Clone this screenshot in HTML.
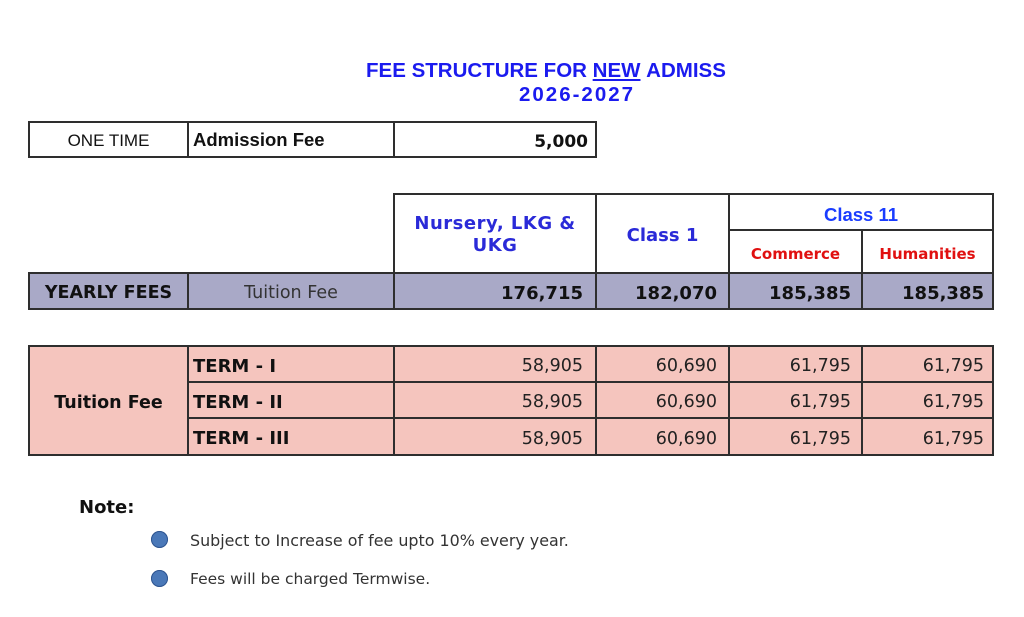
<!DOCTYPE html>
<html><head><meta charset="utf-8">
<style>
html,body{margin:0;padding:0;background:#fff;}
body{width:1024px;height:617px;position:relative;overflow:hidden;font-family:"DejaVu Sans",Verdana,sans-serif;}
.l{position:absolute;background:#2e2e2e;}
.c{position:absolute;display:flex;align-items:center;white-space:nowrap;box-sizing:border-box;}
.d{padding-top:4px;}
.r{justify-content:flex-end;}
.m{justify-content:center;text-align:center;}
.bg{position:absolute;}
</style></head><body>

<!-- Title -->
<div class="c" style="left:366px;top:59px;height:24px;font-family:'Liberation Sans',Arial,sans-serif;font-weight:bold;font-size:20.5px;color:#1b1bef;">FEE STRUCTURE FOR&nbsp;<span style="text-decoration:underline;">NEW</span>&nbsp;ADMISS</div>
<div class="c" style="left:519px;top:83px;height:24px;font-family:'Liberation Sans',Arial,sans-serif;font-weight:bold;font-size:20.5px;letter-spacing:2px;color:#1b1bef;">2026-2027</div>

<!-- Top table -->
<div class="l" style="left:28px;top:121px;width:569px;height:2px;"></div>
<div class="l" style="left:28px;top:156px;width:569px;height:2px;"></div>
<div class="l" style="left:28px;top:121px;width:2px;height:37px;"></div>
<div class="l" style="left:187px;top:121px;width:2px;height:37px;"></div>
<div class="l" style="left:393px;top:121px;width:2px;height:37px;"></div>
<div class="l" style="left:595px;top:121px;width:2px;height:37px;"></div>
<div class="c m" style="left:30px;top:124px;width:157px;height:33px;font-family:'Liberation Sans',Arial,sans-serif;font-size:17px;color:#111;">ONE TIME</div>
<div class="c" style="left:193px;top:123px;height:33px;font-family:'Liberation Sans',Arial,sans-serif;font-weight:bold;font-size:18.5px;color:#111;">Admission Fee</div>
<div class="c r d" style="left:395px;top:123px;width:193px;height:33px;font-weight:bold;font-size:17px;color:#111;">5,000</div>

<!-- Backgrounds -->
<div class="bg" style="left:28px;top:272px;width:966px;height:38px;background:#a9a9c7;"></div>
<div class="bg" style="left:28px;top:345px;width:966px;height:111px;background:#f5c5be;"></div>

<!-- Header table lines -->
<div class="l" style="left:393px;top:193px;width:601px;height:2px;"></div>
<div class="l" style="left:728px;top:229px;width:266px;height:2px;"></div>
<div class="l" style="left:393px;top:193px;width:2px;height:117px;"></div>
<div class="l" style="left:595px;top:193px;width:2px;height:117px;"></div>
<div class="l" style="left:728px;top:193px;width:2px;height:117px;"></div>
<div class="l" style="left:861px;top:229px;width:2px;height:81px;"></div>
<div class="l" style="left:992px;top:193px;width:2px;height:117px;"></div>
<div class="l" style="left:28px;top:272px;width:966px;height:2px;"></div>
<div class="l" style="left:28px;top:308px;width:966px;height:2px;"></div>
<div class="l" style="left:28px;top:272px;width:2px;height:38px;"></div>
<div class="l" style="left:187px;top:272px;width:2px;height:38px;"></div>

<!-- Header text -->
<div class="c m" style="left:395px;top:211px;width:200px;height:48px;font-weight:bold;font-size:18px;letter-spacing:0.5px;line-height:22px;color:#2a2ad8;">Nursery, LKG &amp;<br>UKG</div>
<div class="c m d" style="left:597px;top:195px;width:131px;height:77px;font-weight:bold;font-size:18px;color:#2a2ad8;">Class 1</div>
<div class="c m d" style="left:730px;top:196px;width:262px;height:34px;font-family:'Liberation Sans',Arial,sans-serif;font-weight:bold;font-size:18.5px;color:#1a3cff;">Class 11</div>
<div class="c m d" style="left:730px;top:231px;width:131px;height:41px;font-weight:bold;font-size:15px;color:#e01010;">Commerce</div>
<div class="c m d" style="left:863px;top:231px;width:129px;height:41px;font-weight:bold;font-size:15px;color:#e01010;">Humanities</div>

<!-- Yearly row text -->
<div class="c m d" style="left:30px;top:274px;width:157px;height:34px;font-weight:bold;font-size:17.5px;color:#111;">YEARLY FEES</div>
<div class="c m d" style="left:189px;top:274px;width:204px;height:34px;font-size:17.5px;color:#333;">Tuition Fee</div>
<div class="c r d" style="left:395px;top:274px;width:188px;height:34px;font-weight:bold;font-size:18px;color:#111;">176,715</div>
<div class="c r d" style="left:597px;top:274px;width:120px;height:34px;font-weight:bold;font-size:18px;color:#111;">182,070</div>
<div class="c r d" style="left:730px;top:274px;width:121px;height:34px;font-weight:bold;font-size:18px;color:#111;">185,385</div>
<div class="c r d" style="left:863px;top:274px;width:121px;height:34px;font-weight:bold;font-size:18px;color:#111;">185,385</div>

<!-- Term table lines -->
<div class="l" style="left:28px;top:345px;width:966px;height:2px;"></div>
<div class="l" style="left:187px;top:381px;width:807px;height:2px;"></div>
<div class="l" style="left:187px;top:417px;width:807px;height:2px;"></div>
<div class="l" style="left:28px;top:454px;width:966px;height:2px;"></div>
<div class="l" style="left:28px;top:345px;width:2px;height:111px;"></div>
<div class="l" style="left:187px;top:345px;width:2px;height:111px;"></div>
<div class="l" style="left:393px;top:345px;width:2px;height:111px;"></div>
<div class="l" style="left:595px;top:345px;width:2px;height:111px;"></div>
<div class="l" style="left:728px;top:345px;width:2px;height:111px;"></div>
<div class="l" style="left:861px;top:345px;width:2px;height:111px;"></div>
<div class="l" style="left:992px;top:345px;width:2px;height:111px;"></div>

<!-- Term text -->
<div class="c m d" style="left:30px;top:347px;width:157px;height:107px;font-weight:bold;font-size:17.5px;color:#111;">Tuition Fee</div>

<div class="c d" style="left:193px;top:347px;height:34px;font-weight:bold;font-size:18px;color:#111;">TERM - I</div>
<div class="c d" style="left:193px;top:383px;height:34px;font-weight:bold;font-size:18px;color:#111;">TERM - II</div>
<div class="c d" style="left:193px;top:419px;height:35px;font-weight:bold;font-size:18px;color:#111;">TERM - III</div>

<div class="c r d" style="left:395px;top:347px;width:188px;height:34px;font-size:17.5px;color:#222;">58,905</div>
<div class="c r d" style="left:597px;top:347px;width:120px;height:34px;font-size:17.5px;color:#222;">60,690</div>
<div class="c r d" style="left:730px;top:347px;width:121px;height:34px;font-size:17.5px;color:#222;">61,795</div>
<div class="c r d" style="left:863px;top:347px;width:121px;height:34px;font-size:17.5px;color:#222;">61,795</div>

<div class="c r d" style="left:395px;top:383px;width:188px;height:34px;font-size:17.5px;color:#222;">58,905</div>
<div class="c r d" style="left:597px;top:383px;width:120px;height:34px;font-size:17.5px;color:#222;">60,690</div>
<div class="c r d" style="left:730px;top:383px;width:121px;height:34px;font-size:17.5px;color:#222;">61,795</div>
<div class="c r d" style="left:863px;top:383px;width:121px;height:34px;font-size:17.5px;color:#222;">61,795</div>

<div class="c r d" style="left:395px;top:419px;width:188px;height:35px;font-size:17.5px;color:#222;">58,905</div>
<div class="c r d" style="left:597px;top:419px;width:120px;height:35px;font-size:17.5px;color:#222;">60,690</div>
<div class="c r d" style="left:730px;top:419px;width:121px;height:35px;font-size:17.5px;color:#222;">61,795</div>
<div class="c r d" style="left:863px;top:419px;width:121px;height:35px;font-size:17.5px;color:#222;">61,795</div>

<!-- Notes -->
<div class="c" style="left:79px;top:495px;height:24px;font-weight:bold;font-size:18px;color:#111;">Note:</div>
<div style="position:absolute;left:151px;top:531px;width:17px;height:17px;border-radius:50%;background:#4a78b8;box-shadow:inset 0 0 0 1px #2f5590;"></div>
<div class="c" style="left:190px;top:529px;height:22px;font-size:15.9px;color:#333;">Subject to Increase of fee upto 10% every year.</div>
<div style="position:absolute;left:151px;top:570px;width:17px;height:17px;border-radius:50%;background:#4a78b8;box-shadow:inset 0 0 0 1px #2f5590;"></div>
<div class="c" style="left:190px;top:568px;height:22px;font-size:15.5px;color:#333;">Fees will be charged Termwise.</div>

</body></html>
